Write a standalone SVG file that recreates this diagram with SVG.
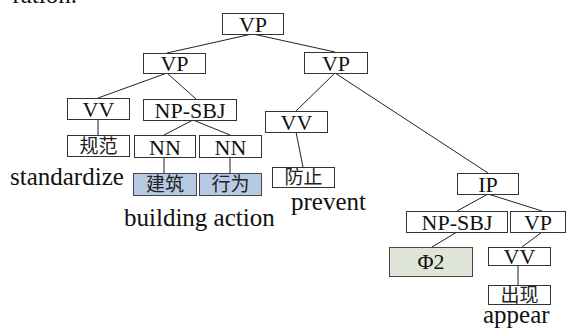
<svg xmlns="http://www.w3.org/2000/svg" width="566" height="335" viewBox="0 0 566 335">
<style>
.b{fill:#fff;stroke:#333;stroke-width:1}
.blue{fill:#b8c9e3;stroke:#444;stroke-width:1}
.green{fill:#dfe6d7;stroke:#444;stroke-width:1}
.t{font-family:'Liberation Serif',Tinos,'Times New Roman',serif;font-size:22px;fill:#111;text-anchor:middle}
.c{font-family:'Noto Sans CJK SC',sans-serif;font-size:19px;fill:#222;text-anchor:middle}
.w{font-family:'Liberation Serif',Tinos,'Times New Roman',serif;font-size:25px;fill:#111}
.e line{stroke:#222;stroke-width:1}
</style>
<rect width="566" height="335" fill="#fff"/>
<text class="w" x="77" y="3" text-anchor="end">ration.</text>
<g class="e" id="connectors">
<line x1="252" y1="34" x2="167" y2="53"/>
<line x1="253" y1="34" x2="335" y2="52"/>
<line x1="167" y1="73" x2="98" y2="98"/>
<line x1="167" y1="73" x2="196" y2="99"/>
<line x1="98" y1="119" x2="98" y2="135"/>
<line x1="193" y1="120" x2="164" y2="135"/>
<line x1="193" y1="120" x2="230" y2="135"/>
<line x1="164" y1="157" x2="164" y2="173"/>
<line x1="230" y1="157" x2="230" y2="173"/>
<line x1="335" y1="73" x2="296" y2="111"/>
<line x1="335" y1="73" x2="488" y2="173"/>
<line x1="296" y1="132" x2="303" y2="167"/>
<line x1="488" y1="194" x2="457" y2="211"/>
<line x1="488" y1="194" x2="542" y2="211"/>
<line x1="457" y1="232" x2="432" y2="247"/>
<line x1="542" y1="232" x2="522" y2="247"/>
<line x1="518" y1="265" x2="518" y2="285"/>
</g>
<g id="vp_root"><rect class="b" x="222.5" y="13.5" width="61" height="21"/><text class="t" x="253" y="32">VP</text></g>
<g id="vp_left"><rect class="b" x="143.5" y="53.5" width="62" height="20"/><text class="t" x="174.5" y="71">VP</text></g>
<g id="vp_right"><rect class="b" x="304.5" y="52.5" width="63" height="21"/><text class="t" x="336" y="71">VP</text></g>
<g id="vv_left"><rect class="b" x="67.5" y="98.5" width="62" height="21"/><text class="t" x="98.5" y="117">VV</text></g>
<g id="npsbj_left"><rect class="b" x="143.5" y="99.5" width="93" height="21"/><text class="t" x="190" y="118">NP-SBJ</text></g>
<g id="guifan"><rect class="b" x="67.5" y="135.5" width="62" height="21"/><text class="c" x="98.5" y="152.5">规范</text></g>
<g id="nn1"><rect class="b" x="134.5" y="135.5" width="61" height="22"/><text class="t" x="165" y="155">NN</text></g>
<g id="nn2"><rect class="b" x="199.5" y="135.5" width="62" height="22"/><text class="t" x="230.5" y="155">NN</text></g>
<g id="jianzhu"><rect class="blue" x="133.5" y="173.5" width="63" height="22"/><text class="c" x="165" y="191">建筑</text></g>
<g id="xingwei"><rect class="blue" x="199.5" y="173.5" width="62" height="22"/><text class="c" x="230.5" y="191">行为</text></g>
<g id="vv_right"><rect class="b" x="265.5" y="111.5" width="62" height="21"/><text class="t" x="296.5" y="130">VV</text></g>
<g id="fangzhi"><rect class="b" x="272.5" y="167.5" width="62" height="20"/><text class="c" x="303.5" y="184">防止</text></g>
<g id="ip"><rect class="b" x="457.5" y="173.5" width="61" height="21"/><text class="t" x="488" y="192">IP</text></g>
<g id="npsbj_right"><rect class="b" x="406.5" y="211.5" width="101" height="21"/><text class="t" x="457" y="230">NP-SBJ</text></g>
<g id="vp_ip"><rect class="b" x="510.5" y="211.5" width="55" height="21"/><text class="t" x="538" y="230">VP</text></g>
<g id="phi2"><rect class="green" x="389.5" y="247.5" width="83" height="29"/><text class="t" x="431" y="269">Φ2</text></g>
<g id="vv_ip"><rect class="b" x="488.5" y="247.5" width="62" height="18"/><text class="t" x="519.5" y="264">VV</text></g>
<g id="chuxian"><rect class="b" x="488.5" y="285.5" width="62" height="19"/><text class="c" x="519.5" y="301.5">出现</text></g>
<text class="w" x="10" y="185">standardize</text>
<text class="w" x="124" y="226">building action</text>
<text class="w" x="291" y="210">prevent</text>
<text class="w" x="483" y="323">appear</text>
</svg>
